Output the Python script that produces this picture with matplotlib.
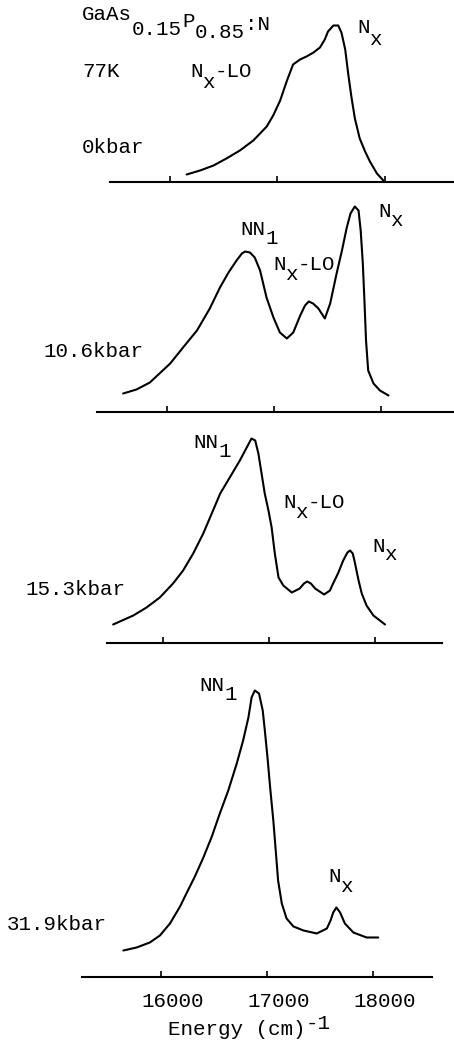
import matplotlib
matplotlib.use('Agg')
import matplotlib.pyplot as plt
import matplotlib.transforms as mtransforms

W, H, DPI = 454, 1045, 100
MONO = ['Liberation Mono', 'DejaVu Sans Mono']

# photoluminescence spectra, energy in cm^-1, intensity in arbitrary units
e_0kbar = [16155, 16280, 16405, 16525, 16650, 16775, 16900, 16960, 17025, 17085,
           17145, 17210, 17270, 17335, 17395, 17440, 17470, 17520, 17565, 17595,
           17630, 17660, 17690, 17720, 17765, 17815, 17860, 17925, 17985]
i_0kbar = [7, 11, 16, 23, 31, 41, 55, 66, 81, 100,
           117, 122, 125, 129, 134, 142, 150, 156, 156, 149,
           132, 106, 83, 63, 43, 30, 20, 8, 1]

e_10kbar = [15590, 15715, 15840, 16030, 16150, 16280, 16400, 16495, 16575, 16650,
            16700, 16730, 16775, 16820, 16870, 16930, 16995, 17055, 17120, 17180,
            17245, 17290, 17325, 17365, 17415, 17475, 17525, 17585, 17635, 17680,
            17715, 17755, 17790, 17810, 17830, 17845, 17860, 17880, 17930, 17990,
            18070]
i_10kbar = [18, 22, 29, 48, 64, 81, 103, 124, 139, 151,
            158, 160, 159, 154, 141, 114, 94, 79, 73, 79,
            96, 106, 110, 108, 103, 93, 108, 138, 161, 184,
            198, 205, 201, 181, 148, 111, 71, 41, 28, 21,
            16]

e_15kbar = [15530, 15720, 15845, 15970, 16095, 16190, 16285, 16380, 16460, 16540,
            16630, 16725, 16790, 16835, 16870, 16900, 16930, 16960, 16995, 17025,
            17055, 17090, 17135, 17215, 17290, 17330, 17360, 17395, 17435, 17520,
            17575, 17605, 17655, 17700, 17740, 17765, 17790, 17810, 17845, 17875,
            17920, 17985, 18095]
i_15kbar = [18, 27, 35, 45, 59, 72, 89, 109, 129, 149,
            165, 182, 195, 204, 202, 189, 169, 149, 132, 115,
            89, 65, 57, 50, 54, 59, 61, 59, 54, 48,
            52, 59, 70, 82, 90, 92, 89, 80, 62, 49,
            37, 27, 18]

e_31kbar = [15645, 15770, 15895, 15990, 16085, 16180, 16240, 16320, 16400, 16480,
            16555, 16635, 16715, 16775, 16825, 16855, 16885, 16925, 16960, 16980,
            17005, 17030, 17060, 17085, 17105, 17140, 17185, 17250, 17345, 17470,
            17565, 17600, 17625, 17655, 17690, 17735, 17815, 17940, 18050]
i_31kbar = [26, 29, 34, 41, 53, 70, 83, 100, 119, 140,
            163, 186, 213, 236, 259, 279, 286, 283, 266, 246,
            219, 189, 156, 123, 96, 73, 58, 50, 46, 43,
            48, 56, 64, 69, 64, 53, 44, 39, 39]

spectra = [(e_0kbar, i_0kbar), (e_10kbar, i_10kbar),
           (e_15kbar, i_15kbar), (e_31kbar, i_31kbar)]
ticks = [16000, 17000, 18000]

# scanned panels are not quite aligned: left px, right px, baseline px, xlim
layout = [(110, 454, 181.5, 15442, 18642),
          (97, 454, 411.5, 15346, 18682),
          (107, 442, 642.5, 15472, 18632),
          (82, 432, 976.5, 15255, 18557)]

fig = plt.figure(figsize=(W / DPI, H / DPI), dpi=DPI)
fig.patch.set_facecolor('white')

AX_H = 220
axes = []
for k, ((e, i), (l, r, b, x0, x1)) in enumerate(zip(spectra, layout)):
    ax = fig.add_axes([l / W, 1 - b / H, (r - l) / W, AX_H / H])
    ax.patch.set_visible(False)
    ax.plot(e, i, color='black', lw=1.5, clip_on=False,
            solid_capstyle='round', solid_joinstyle='round')
    ax.set_xlim(x0, x1)
    ax.set_ylim(0, AX_H)
    for s in ['top', 'left', 'right']:
        ax.spines[s].set_visible(False)
    ax.spines['bottom'].set_linewidth(1.5)
    ax.set_yticks([])
    ax.set_xticks(ticks)
    ax.tick_params(axis='x', direction='in', length=4.5, width=1.2,
                   labelbottom=(k == 3), pad=11, labelsize=15)
    axes.append(ax)

shift = mtransforms.ScaledTranslation(0.12, 0, fig.dpi_scale_trans)
for lab in axes[3].get_xticklabels():
    lab.set_fontfamily(MONO)
    lab.set_transform(lab.get_transform() + shift)


def typed(x, y, parts, size=15):
    # typewriter text: each piece is (string, downward shift of its baseline in px)
    adv = 0.6 * size * DPI / 72
    for s, dy in parts:
        fig.text(x / W, 1 - (y + dy) / H, s, fontsize=size, family=MONO,
                 ha='left', va='baseline', color='black')
        x += len(s) * adv


typed(82, 20, [('GaAs', 0), ('0.15', 15), ('P', 7), ('0.85', 18), (':N', 10)])
typed(82, 77, [('77K', 0)])
typed(190, 77, [('N', 0), ('x', 11), ('-LO', 0)])
typed(82, 153, [('0kbar', 0)])
typed(357, 33, [('N', 0), ('x', 12)])

typed(240, 235, [('NN', 0), ('1', 9)])
typed(378, 217, [('N', 0), ('x', 9)])
typed(273, 270, [('N', 0), ('x', 10), ('-LO', 0)])
typed(43, 357, [('10.6kbar', 0)])

typed(193, 448, [('NN', 0), ('1', 9)])
typed(283, 508, [('N', 0), ('x', 10), ('-LO', 0)])
typed(372, 552, [('N', 0), ('x', 8)])
typed(25, 595, [('15.3kbar', 0)])

typed(199, 691, [('NN', 0), ('1', 9)])
typed(328, 882, [('N', 0), ('x', 10)])
typed(7, 930, [('31.9kbar', 0)])

typed(168, 1035, [('Energy (cm)', 0), ('-1', -6)])

fig.savefig('out.png', dpi=DPI, facecolor='white')
